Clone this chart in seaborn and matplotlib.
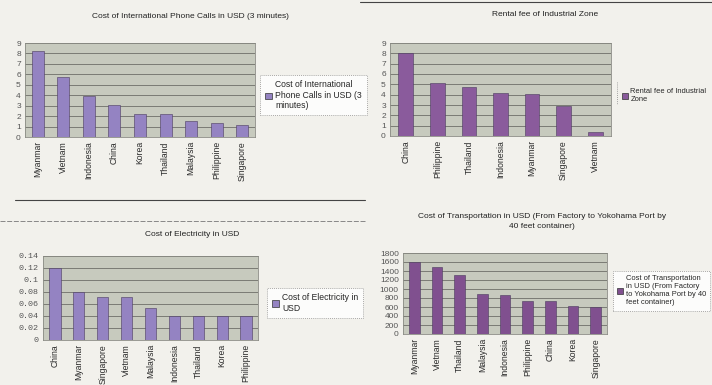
import matplotlib
matplotlib.use("Agg")
import matplotlib.pyplot as plt
import seaborn as sns
import pandas as pd
from matplotlib.patches import Patch
from matplotlib.lines import Line2D

# ---- data ----
phone_countries = ["Myanmar", "Vietnam", "Indonesia", "China", "Korea", "Thailand", "Malaysia", "Philippine", "Singapore"]
phone_values = [8.2, 5.7, 3.9, 3.05, 2.25, 2.2, 1.55, 1.3, 1.15]

rent_countries = ["China", "Philippine", "Thailand", "Indonesia", "Myanmar", "Singapore", "Vietnam"]
rent_values = [8.0, 5.1, 4.7, 4.2, 4.1, 2.9, 0.4]

elec_countries = ["China", "Myanmar", "Singapore", "Vietnam", "Malaysia", "Indonesia", "Thailand", "Korea", "Philippine"]
elec_values = [0.12, 0.08, 0.071, 0.071, 0.053, 0.04, 0.04, 0.04, 0.04]

trans_countries = ["Myanmar", "Vietnam", "Thailand", "Malaysia", "Indonesia", "Philippine", "China", "Korea", "Singapore"]
trans_values = [1600, 1480, 1310, 900, 860, 730, 730, 620, 610]

W, H = 712, 385
PAPER = "#f2f1ec"
PLOTBG = "#c7cabe"
FONT = ["Liberation Sans", "DejaVu Sans"]

sns.set_theme(style="white")
plt.rcParams["font.family"] = FONT

fig = plt.figure(figsize=(W / 100, H / 100), dpi=100, facecolor=PAPER)


def add_ax(x0, y0, x1, y1):
    return fig.add_axes([x0 / W, 1 - y1 / H, (x1 - x0) / W, (y1 - y0) / H])


def panel(box, cats, vals, ymax, step, color, title, title_xy, legend_label,
          legend_xy, tick_fmt=None, mono=False, frame_full=True, legend_size=6.2):
    ax = add_ax(*box)
    df = pd.DataFrame({"country": cats, "value": vals})
    sns.barplot(data=df, x="country", y="value", color=color, ax=ax,
                width=0.47, saturation=1, edgecolor="#4a3a5e", linewidth=0.4)
    ax.set_facecolor(PLOTBG)
    ax.set_ylim(0, ymax)
    ticks = [i * step for i in range(int(round(ymax / step)) + 1)]
    ax.set_yticks(ticks)
    if tick_fmt:
        ax.set_yticklabels([tick_fmt(t) for t in ticks])
    ax.yaxis.grid(True, color="#6e6f68", linewidth=0.6)
    ax.set_axisbelow(True)
    ax.set_xlabel("")
    ax.set_ylabel("")
    for s in ax.spines.values():
        s.set_color("#8a8b84")
        s.set_linewidth(0.6)
    ax.tick_params(axis="x", labelrotation=90, labelsize=6.2, length=0, pad=3, colors="#2a2a2a")
    ax.tick_params(axis="y", labelsize=6, length=0, pad=3, colors="#555555")
    if mono:
        for lab in ax.get_yticklabels():
            lab.set_family(["Liberation Mono", "DejaVu Sans Mono"])
    fig.text(title_xy[0] / W, 1 - title_xy[1] / H, title, ha="center", va="center",
             fontsize=6, color="#222222", linespacing=1.6)
    handle = Patch(facecolor=color, edgecolor="#333333", linewidth=0.5)
    leg = fig.legend([handle], [legend_label], loc="upper left",
                     bbox_to_anchor=(legend_xy[0] / W, 1 - legend_xy[1] / H),
                     fontsize=legend_size, frameon=frame_full, handlelength=0.8, handleheight=0.8,
                     handletextpad=0.3, borderpad=0.6, fancybox=False)
    if frame_full:
        fr = leg.get_frame()
        fr.set_edgecolor("#777777")
        fr.set_linestyle((0, (1, 1.5)))
        fr.set_linewidth(0.6)
        fr.set_facecolor("white")
    return ax


panel((25, 43, 255, 137), phone_countries, phone_values, 9, 1, "#9483c2",
      "Cost of International Phone Calls in USD (3 minutes)", (190, 16),
      "Cost of International\nPhone Calls in USD (3\nminutes)", (256, 71))

panel((390, 43, 611, 136), rent_countries, rent_values, 9, 1, "#8a5b9c",
      "Rental fee of Industrial Zone", (545, 15),
      "Rental fee of Industrial\nZone", (614, 80), frame_full=False, legend_size=5.4)
# dotted left edge of the rental legend
fig.add_artist(Line2D([617 / W, 617 / W], [1 - 82 / H, 1 - 104 / H], color="#888888",
                      linewidth=0.6, linestyle=(0, (1, 1.5))))

panel((43, 256, 258, 340), elec_countries, elec_values, 0.14, 0.02, "#9483c2",
      "Cost of Electricity in USD", (192, 235),
      "Cost of Electricity in\nUSD", (263, 284),
      tick_fmt=lambda t: "0" if t == 0 else ("%.2f" % t).rstrip("0"), mono=True)

panel((403, 253, 607, 334), trans_countries, trans_values, 1800, 200, "#80508f",
      "Cost of Transportation in USD (From Factory to Yokohama Port by\n40 feet container)",
      (542, 221),
      "Cost of Transportation\nin USD (From Factory\nto Yokohama Port by 40\nfeet container)", (609, 267),
      legend_size=5.4)

# separator rules from the scanned page
fig.add_artist(Line2D([15 / W, 365 / W], [1 - 200 / H, 1 - 200 / H], color="#444444", linewidth=0.8))
fig.add_artist(Line2D([0, 365 / W], [1 - 221 / H, 1 - 221 / H], color="#777777", linewidth=0.6,
                      linestyle=(0, (6, 2))))
fig.add_artist(Line2D([360 / W, 1], [1 - 2 / H, 1 - 2 / H], color="#444444", linewidth=0.8))

fig.savefig("out.png", dpi=100, facecolor=PAPER)
